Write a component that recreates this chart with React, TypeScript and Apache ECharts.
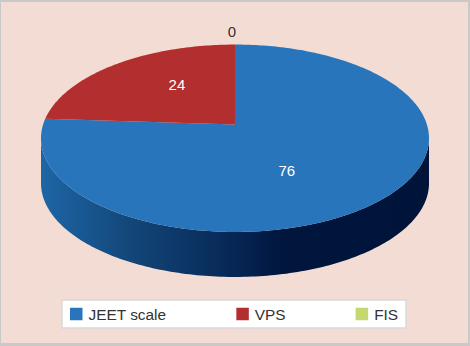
import React, { useEffect, useRef } from "react";
import * as echarts from "echarts";

const categories = ["JEET scale", "VPS", "FIS"];
const values = [76, 24, 0];
const sliceColors = ["#2875bb", "#b32e2e", "#c3d96f"];
const labelColors = ["#ffffff", "#ffffff", "#333333"];

const FONT = "'Liberation Sans', Arial, sans-serif";
const total = values.reduce((a, b) => a + b, 0);

// perspective projection of the unit disc onto the screen
const APEX_X = 235;
const APEX_Y = 124.5;
const KX = 191.9;
const KY = 91.7;
const PERSP = 0.1467;
const DEPTH = 45;

const project = (phi: number, r = 1): [number, number] => {
  const u = r * Math.sin(phi);
  const v = r * Math.cos(phi);
  const d = 1 + PERSP * v;
  return [APEX_X + (KX * u) / d, APEX_Y - (KY * v) / d];
};

const toAngle = (v: number) => (v / total) * Math.PI * 2;
const startOf = (i: number) => toAngle(values.slice(0, i).reduce((a, b) => a + b, 0));

// placement of each value label, relative to the slice's middle
const labelPlacement = [
  { r: 0.35, dx: 4, dy: 22 },
  { r: 0.6, dx: 16, dy: -2 },
  { r: 1.1, dx: -3, dy: -6 },
];

const wallFill = new echarts.graphic.LinearGradient(
  41, 0, 429, 0,
  [
    { offset: 0, color: "#1d66a6" },
    { offset: 0.25, color: "#124476" },
    { offset: 0.5, color: "#062655" },
    { offset: 0.62, color: "#00163d" },
    { offset: 1, color: "#00143a" },
  ],
  true
);

const makeRender = (i: number) => (_params: any, api: any) => {
  const value = api.value(0) as number;
  const a0 = startOf(i);
  const a1 = a0 + toAngle(value);
  const steps = Math.max(1, Math.ceil(((a1 - a0) * 180) / Math.PI));
  const rim: [number, number][] = [];
  for (let s = 0; s <= steps; s++) rim.push(project(a0 + ((a1 - a0) * s) / steps));

  const children: any[] = [];
  // front wall: the part of the rim on the near side of the tangent points
  const front = rim.filter((_, s) => Math.cos(a0 + ((a1 - a0) * s) / steps) <= -PERSP);
  if (value > 0 && front.length > 1) {
    const lower = front.map(([x, y]) => [x, y + DEPTH]).reverse();
    children.push({
      type: "polygon",
      shape: { points: [...front, ...lower] },
      style: { fill: wallFill, stroke: "none" },
      silent: true,
    });
  }
  if (value > 0) {
    children.push({
      type: "polygon",
      shape: { points: [[APEX_X, APEX_Y], ...rim] },
      style: { fill: sliceColors[i], stroke: "none" },
      z2: 2,
      silent: true,
    });
  }
  const mid = (a0 + a1) / 2;
  const p = labelPlacement[i];
  const [lx, ly] = project(mid, p.r);
  children.push({
    type: "text",
    x: lx + p.dx,
    y: ly + p.dy,
    z2: 5,
    silent: true,
    style: {
      text: String(value),
      fill: labelColors[i],
      font: `15px ${FONT}`,
      align: "center",
      verticalAlign: "middle",
    },
  });
  return { type: "group", children };
};

export default function App() {
  const ref = useRef<HTMLDivElement>(null);
  useEffect(() => {
    document.body.style.margin = "0";
    const chart = echarts.init(ref.current!, undefined, { renderer: "svg" });
    chart.setOption({
      animation: false,
      backgroundColor: "#c9c9c9",
      graphic: [
        {
          type: "rect",
          z: -10,
          shape: { x: 1, y: 2, width: 467, height: 341 },
          style: { fill: "#f2dcd3" },
          silent: true,
        },
      ],
      legend: {
        data: categories,
        left: 62,
        top: 300,
        padding: [6.5, 8, 6.5, 8],
        itemGap: 70,
        itemWidth: 12.5,
        itemHeight: 12.5,
        icon: "rect",
        backgroundColor: "#ffffff",
        borderColor: "#d9d9d9",
        borderWidth: 1.5,
        selectedMode: false,
        textStyle: { fontFamily: FONT, fontSize: 15.4, color: "#333333", padding: [0, 0, 0, 1] },
      },
      series: categories.map((name, i) => ({
        type: "custom",
        name,
        coordinateSystem: "none",
        itemStyle: { color: sliceColors[i] },
        data: [[values[i]]],
        renderItem: makeRender(i),
        silent: true,
      })),
    });
    return () => chart.dispose();
  }, []);
  return <div ref={ref} style={{ width: 470, height: 346 }} />;
}
